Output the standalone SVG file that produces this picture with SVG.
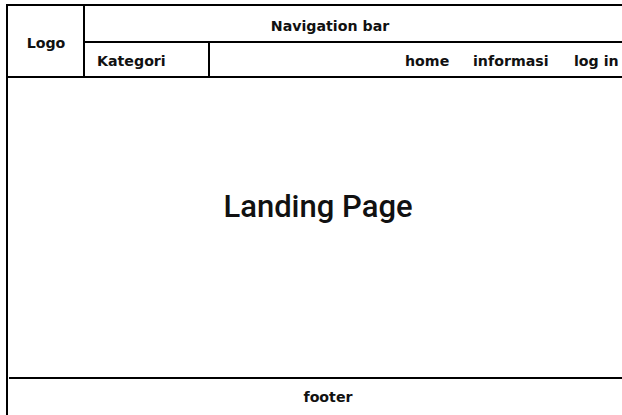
<svg xmlns="http://www.w3.org/2000/svg" width="622" height="415" viewBox="0 0 622 415">
<style>
.ln{stroke:#000;stroke-width:2;fill:none}
.t{font-family:"DejaVu Sans",sans-serif;font-weight:bold;font-size:14.2px;fill:#111}
.big{font-family:Roboto,"Liberation Sans",sans-serif;font-weight:500;font-size:31px;fill:#111}
</style>
<rect width="622" height="415" fill="#fff"/>
<g id="connectors">
<path class="ln" d="M7,415 V5 H622"/>
<path class="ln" d="M84,5 V77"/>
<path class="ln" d="M84,42 H622"/>
<path class="ln" d="M209,42 V77"/>
<path class="ln" d="M7,77 H622"/>
<path class="ln" d="M9,378 H622"/>
</g>
<g id="logo"><text class="t" x="46" y="48" text-anchor="middle">Logo</text></g>
<g id="navbar"><text class="t" x="330" y="31" text-anchor="middle">Navigation bar</text></g>
<g id="kategori"><text class="t" x="97" y="66">Kategori</text></g>
<g id="home"><text class="t" x="405" y="66">home</text></g>
<g id="informasi"><text class="t" x="473" y="66">informasi</text></g>
<g id="login"><text class="t" x="574" y="66">log in</text></g>
<g id="landing"><text class="big" x="318" y="217" text-anchor="middle">Landing Page</text></g>
<g id="footer"><text class="t" x="328" y="402" text-anchor="middle">footer</text></g>
</svg>
